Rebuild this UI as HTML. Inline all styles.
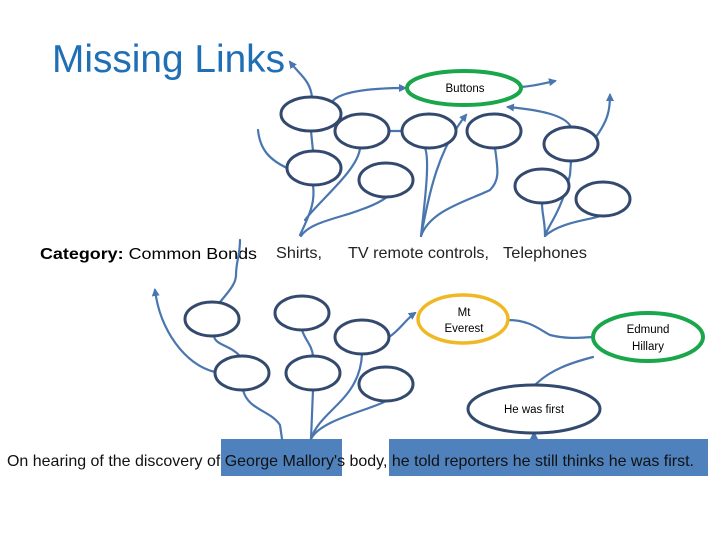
<!DOCTYPE html>
<html><head><meta charset="utf-8"><style>
body{margin:0;background:#fff;}
svg{display:block;}
</style></head><body>
<svg width="720" height="540" viewBox="0 0 720 540" xmlns="http://www.w3.org/2000/svg" font-family="Liberation Sans, sans-serif">
<defs>
<marker id="a" markerWidth="8" markerHeight="8" refX="6" refY="4" orient="auto" markerUnits="userSpaceOnUse"><path d="M0,0 L8,4 L0,8 z" fill="#4a76b0"/></marker>
</defs>
<text x="52" y="72" font-size="39" fill="#1f6fb5" textLength="233" lengthAdjust="spacingAndGlyphs">Missing Links</text>
<text x="40" y="259" font-size="16" textLength="217" lengthAdjust="spacingAndGlyphs"><tspan font-weight="bold">Category:</tspan> Common Bonds</text>
<text x="276" y="258" font-size="16" fill="#222" textLength="46" lengthAdjust="spacingAndGlyphs">Shirts,</text>
<text x="348" y="258" font-size="16" fill="#222" textLength="141" lengthAdjust="spacingAndGlyphs">TV remote controls,</text>
<text x="503" y="258" font-size="16" fill="#222" textLength="84" lengthAdjust="spacingAndGlyphs">Telephones</text>

<rect x="221" y="439" width="121" height="37" fill="#4f81bd"/>
<rect x="389" y="439" width="319" height="37" fill="#4f81bd"/>
<text x="7" y="466" font-size="16" fill="#111" textLength="687" lengthAdjust="spacingAndGlyphs">On hearing of the discovery of George Mallory's body, he told reporters he still thinks he was first.</text>

<g fill="none" stroke="#4a76b0" stroke-width="2.2" stroke-linecap="round">
<path d="M312,97 C310,80 300,75 290,62" marker-end="url(#a)"/>
<path d="M332,102 C340,90 380,88 405,88" marker-end="url(#a)"/>
<path d="M521,87 C535,86 545,83 555,81" marker-end="url(#a)"/>
<path d="M287,168 C270,160 260,150 258,130" />
<path d="M311,131 L313,151"/>
<path d="M402,131 L389,131"/>
<path d="M313,185 C315,200 312,210 300,235"/>
<path d="M301,236 C310,222 340,218 360,210 C375,205 383,200 387,197"/>
<path d="M360,148 C358,170 320,200 305,220"/>
<path d="M421,236 C425,200 430,160 425,148"/>
<path d="M421,236 C430,210 470,200 490,190 C500,180 498,170 495,148"/>
<path d="M421,236 C430,190 438,150 466,115" marker-end="url(#a)"/>
<path d="M571,127 C565,115 540,110 508,107" marker-end="url(#a)"/>
<path d="M596,137 C608,120 610,110 610,95" marker-end="url(#a)"/>
<path d="M545,236 C545,220 542,215 542,203"/>
<path d="M545,236 C548,225 560,215 570,175 L571,161"/>
<path d="M545,236 C560,222 590,220 600,216"/>
<path d="M240,240 C240,255 236,262 236,275 C236,282 232,288 220,302"/>
<path d="M214,336 C215,345 230,345 240,356"/>
<path d="M215,372 C185,365 160,330 155,290" marker-end="url(#a)"/>
<path d="M302,330 C305,340 312,345 313,356"/>
<path d="M243,390 C248,410 270,410 280,425 L282,439"/>
<path d="M313,390 L311,439"/>
<path d="M311,439 C320,420 370,410 386,401"/>
<path d="M311,439 C320,410 360,400 362,354"/>
<path d="M389,337 C400,330 405,320 415,313" marker-end="url(#a)"/>
<path d="M508,320 C530,320 540,330 550,335 C570,340 585,337 593,337"/>
<path d="M593,357 C570,363 550,370 535,385"/>
<path d="M534,439 L534,433" marker-end="url(#a)"/>
</g>

<g fill="#fff" stroke="#33496e" stroke-width="3">
<ellipse cx="311" cy="114" rx="30" ry="17"/>
<ellipse cx="362" cy="131" rx="27" ry="17"/>
<ellipse cx="429" cy="131" rx="27" ry="17"/>
<ellipse cx="494" cy="131" rx="27" ry="17"/>
<ellipse cx="314" cy="168" rx="27" ry="17"/>
<ellipse cx="386" cy="180" rx="27" ry="17"/>
<ellipse cx="571" cy="144" rx="27" ry="17"/>
<ellipse cx="542" cy="186" rx="27" ry="17"/>
<ellipse cx="603" cy="199" rx="27" ry="17"/>
<ellipse cx="212" cy="319" rx="27" ry="17"/>
<ellipse cx="302" cy="313" rx="27" ry="17"/>
<ellipse cx="362" cy="337" rx="27" ry="17"/>
<ellipse cx="242" cy="373" rx="27" ry="17"/>
<ellipse cx="313" cy="373" rx="27" ry="17"/>
<ellipse cx="386" cy="384" rx="27" ry="17"/>
<ellipse cx="534" cy="409" rx="66" ry="24"/>
</g>
<ellipse cx="464" cy="88" rx="57" ry="17" fill="#fff" stroke="#1aa64a" stroke-width="4"/>
<ellipse cx="463" cy="319" rx="45" ry="24" fill="#fff" stroke="#f0b923" stroke-width="3.5"/>
<ellipse cx="648" cy="337" rx="55" ry="24" fill="#fff" stroke="#1aa64a" stroke-width="4"/>

<g font-size="11.5" text-anchor="middle" fill="#000">
<text x="465" y="92">Buttons</text>
<text x="464" y="316">Mt</text>
<text x="464" y="332">Everest</text>
<text x="648" y="333">Edmund</text>
<text x="648" y="350">Hillary</text>
<text x="534" y="413">He was first</text>
</g>
</svg>
</body></html>
